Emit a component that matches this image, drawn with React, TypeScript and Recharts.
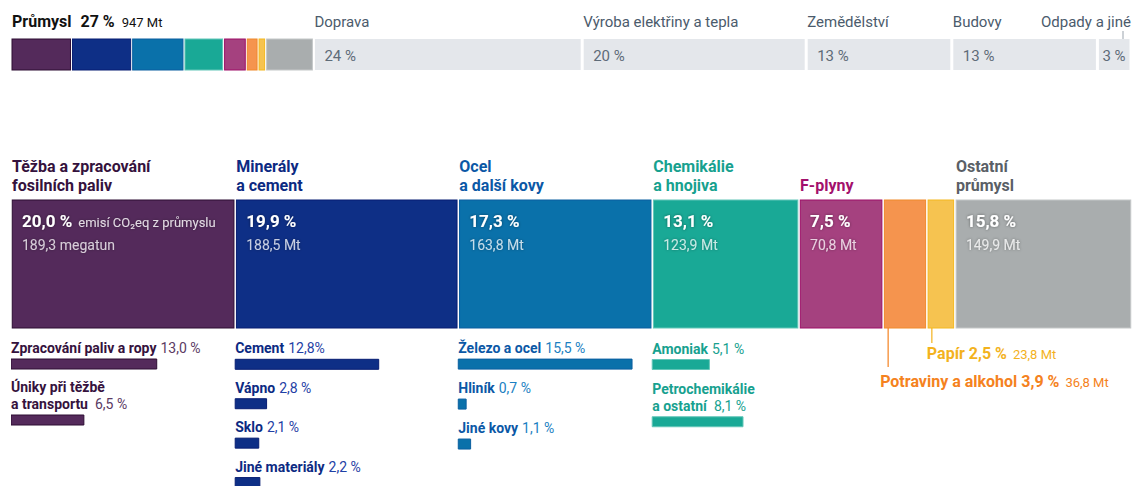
import React from 'react';
import { BarChart, Bar, XAxis, YAxis, LabelList } from 'recharts';

const FONT = 'Roboto, "Noto Sans", Arial, sans-serif';
const W = 1135;

// ---------- data ----------
const industryLabel = 'Průmysl';
const industryShare = 27;
const industryMt = 947;
const sectorNames = ['Doprava', 'Výroba elektřiny a tepla', 'Zemědělství', 'Budovy', 'Odpady a jiné'];
const sectorShares = [24, 20, 13, 13, 3];

const categoryTitles = [
  'Těžba a zpracování\nfosilních paliv',
  'Minerály\na cement',
  'Ocel\na další kovy',
  'Chemikálie\na hnojiva',
  'F-plyny',
  'Potraviny a alkohol',
  'Papír',
  'Ostatní\nprůmysl',
];
const categoryShares = [20.0, 19.9, 17.3, 13.1, 7.5, 3.9, 2.5, 15.8];
const categoryMt = [189.3, 188.5, 163.8, 123.9, 70.8, 36.8, 23.8, 149.9];

const fossilNames = ['Zpracování paliv a ropy', 'Úniky při těžbě\na transportu'];
const fossilShares = [13.0, 6.5];
const mineralNames = ['Cement', 'Vápno', 'Sklo', 'Jiné materiály'];
const mineralShares = [12.8, 2.8, 2.1, 2.2];
const mineralTexts = ['12,8%', '2,8 %', '2,1 %', '2,2 %'];
const metalNames = ['Železo a ocel', 'Hliník', 'Jiné kovy'];
const metalShares = [15.5, 0.7, 1.1];
const chemNames = ['Amoniak', 'Petrochemikálie\na ostatní'];
const chemShares = [5.1, 8.1];

// ---------- styles ----------
const catFill = ['#542a5b', '#0e2f86', '#0a71aa', '#19a996', '#a5417f', '#f5944e', '#f6c350', '#a9adae'];
const catStroke = ['#2d0d33', '#071d72', '#0a5fa0', '#63c6b8', '#9e0f68', '#f08a2a', '#f4b81f', '#c4c7c8'];
const catText = ['#35123d', '#0c2a82', '#0b58a6', '#17a18f', '#a3106c', '#f58220', '#f3b21d', '#5a5f66'];
const subValueColor = ['#5b3a63', '#1f40a5', '#1b7fc2', '#17a18f'];
const sectorFill = '#e4e7eb';
const sectorText = '#4b5b6c';

const fmt1 = (v: number) => v.toFixed(1).replace('.', ',');
const pct = (v: number) => fmt1(v) + ' %';

function insetShape(fill: string, stroke: string | null, gap: number) {
  return (p: any) => {
    const w = Math.max((p.width || 0) - gap, 0);
    if (!w || !p.height) return <g />;
    return (
      <rect
        x={p.x + gap / 2}
        y={p.y}
        width={w}
        height={p.height}
        fill={fill}
        stroke={stroke || 'none'}
        strokeWidth={stroke ? 1 : 0}
      />
    );
  };
}

const gx = (p: any) => (p.x ?? p.viewBox?.x ?? 0);
const gy = (p: any) => (p.y ?? p.viewBox?.y ?? 0);
const gw = (p: any) => (p.width ?? p.viewBox?.width ?? 0);
const gh = (p: any) => (p.height ?? p.viewBox?.height ?? 0);

// ---------- top overview bar ----------
function TopChart() {
  const row: any = { row: 'emise' };
  categoryShares.forEach((s, i) => (row['c' + i] = (industryShare * s) / 100));
  sectorShares.forEach((s, i) => (row['s' + i] = s));
  return (
    <BarChart
      width={W}
      height={80}
      data={[row]}
      layout="vertical"
      margin={{ top: 39, right: 4, bottom: 10, left: 11 }}
      barCategoryGap={0}
    >
      <XAxis type="number" domain={[0, 100]} hide allowDataOverflow />
      <YAxis type="category" dataKey="row" hide />
      {categoryShares.map((_, i) => (
        <Bar
          key={'c' + i}
          dataKey={'c' + i}
          stackId="t"
          isAnimationActive={false}
          shape={insetShape(catFill[i], catStroke[i], 2)}
        >
          {i === 0 ? (
            <LabelList
              content={(p: any) => (
                <text x={gx(p) + 1} y={27} fontFamily={FONT} fontSize={16} fontWeight={700} fill="#111">
                  <tspan>{industryLabel}</tspan>
                  <tspan dx={9}>{industryShare + ' %'}</tspan>
                  <tspan dx={7} fontSize={13} fontWeight={400}>
                    {industryMt + ' Mt'}
                  </tspan>
                </text>
              )}
            />
          ) : null}
        </Bar>
      ))}
      {sectorShares.map((_, i) => (
        <Bar
          key={'s' + i}
          dataKey={'s' + i}
          stackId="t"
          isAnimationActive={false}
          shape={insetShape(sectorFill, null, 3)}
        >
          <LabelList
            content={(p: any) => {
              const x = gx(p);
              const last = i === sectorShares.length - 1;
              return (
                <g>
                  {last ? (
                    <>
                      <text x={x + gw(p)} y={27} textAnchor="end" fontFamily={FONT} fontSize={15} fill={sectorText}>
                        {sectorNames[i]}
                      </text>
                      <line x1={x + gw(p) - 8} x2={x + gw(p) - 8} y1={31} y2={39} stroke="#9aa3ad" strokeWidth={1} />
                    </>
                  ) : (
                    <text x={x + 1} y={27} fontFamily={FONT} fontSize={15} fill={sectorText}>
                      {sectorNames[i]}
                    </text>
                  )}
                  <text x={x + (last ? 5 : 11)} y={61} fontFamily={FONT} fontSize={15} fill="#5e6b78">
                    {sectorShares[i] + ' %'}
                  </text>
                </g>
              );
            }}
          />
        </Bar>
      ))}
    </BarChart>
  );
}

// ---------- main industry blocks ----------
function MainChart() {
  const row: any = { row: 'prumysl' };
  categoryShares.forEach((s, i) => (row['k' + i] = s));
  return (
    <BarChart
      width={W}
      height={260}
      data={[row]}
      layout="vertical"
      margin={{ top: 60, right: 3, bottom: 72, left: 11 }}
      barCategoryGap={0}
    >
      <XAxis type="number" domain={[0, 100]} hide allowDataOverflow />
      <YAxis type="category" dataKey="row" hide />
      {categoryShares.map((_, k) => (
        <Bar
          key={'k' + k}
          dataKey={'k' + k}
          stackId="m"
          isAnimationActive={false}
          shape={insetShape(catFill[k], catStroke[k], 2.5)}
        >
          <LabelList
            content={(p: any) => {
              const x = gx(p);
              const top = gy(p);
              const bottom = top + gh(p);
              if (k === 5 || k === 6) {
                const isPaper = k === 6;
                const lineEnd = isPaper ? bottom + 15 : bottom + 39;
                const base = isPaper ? bottom + 31 : bottom + 59;
                return (
                  <g>
                    <line x1={x + 5} x2={x + 5} y1={bottom} y2={lineEnd} stroke={catText[k]} strokeWidth={1.2} />
                    <text x={isPaper ? x : x - 3} y={base} fontFamily={FONT} fill={catText[k]}>
                      <tspan fontSize={16} fontWeight={700}>
                        {categoryTitles[k] + ' ' + pct(categoryShares[k])}
                      </tspan>
                      <tspan dx={6} fontSize={13}>
                        {fmt1(categoryMt[k]) + ' Mt'}
                      </tspan>
                    </text>
                  </g>
                );
              }
              const lines = categoryTitles[k].split('\n');
              return (
                <g>
                  {k === 0 ? (
                    <defs>
                      <filter id="txtGlow" x="-20%" y="-50%" width="140%" height="200%">
                        <feDropShadow dx={0} dy={0} stdDeviation={1.6} floodColor="#000000" floodOpacity={0.45} />
                      </filter>
                    </defs>
                  ) : null}
                  {lines.map((ln, li) => (
                    <text
                      key={li}
                      x={x + 1}
                      y={top - 9 - (lines.length - 1 - li) * 19}
                      fontFamily={FONT}
                      fontSize={16}
                      fontWeight={700}
                      fill={catText[k]}
                    >
                      {ln}
                    </text>
                  ))}
                  <g filter="url(#txtGlow)">
                    <text x={x + 11} y={top + 27} fontFamily={FONT} fill="#ffffff">
                      <tspan fontSize={17} fontWeight={700}>
                        {pct(categoryShares[k])}
                      </tspan>
                      {k === 0 ? (
                        <tspan dx={6} fontSize={13} fill="rgba(255,255,255,0.82)">
                          emisí CO₂eq z průmyslu
                        </tspan>
                      ) : null}
                    </text>
                    <text x={x + 11} y={top + 50} fontFamily={FONT} fontSize={14} fill="rgba(255,255,255,0.75)">
                      {fmt1(categoryMt[k]) + (k === 0 ? ' megatun' : ' Mt')}
                    </text>
                  </g>
                </g>
              );
            }}
          />
        </Bar>
      ))}
    </BarChart>
  );
}

// ---------- sub-category bars ----------
function SubColumn(props: {
  k: number;
  names: string[];
  shares: number[];
  texts?: string[];
  band: number;
}) {
  const { k, names, shares, texts, band } = props;
  const offset = categoryShares.slice(0, k).reduce((a, b) => a + b, 0);
  const data = names.map((n, i) => ({ name: n, offset, value: shares[i] }));
  const T = 300;
  const m = 364 - band / 2 - T;
  const h = Math.ceil(m + band * names.length);
  return (
    <div style={{ position: 'absolute', left: 0, top: T }}>
      <BarChart
        width={W}
        height={h}
        data={data}
        layout="vertical"
        margin={{ top: m, right: 3, bottom: 0, left: 11 }}
        barCategoryGap={0}
        barSize={10}
      >
        <XAxis type="number" domain={[0, 100]} hide allowDataOverflow />
        <YAxis type="category" dataKey="name" hide />
        <Bar dataKey="offset" stackId="s" fill="none" isAnimationActive={false} />
        <Bar
          dataKey="value"
          stackId="s"
          fill={catFill[k]}
          stroke={catStroke[k]}
          strokeWidth={1}
          isAnimationActive={false}
        >
          <LabelList
            content={(p: any) => {
              const idx = p.index ?? 0;
              const x = gx(p);
              const top = gy(p);
              const lines = names[idx].split('\n');
              const valText = texts ? texts[idx] : pct(shares[idx]);
              return (
                <g>
                  {lines.map((ln, li) => {
                    const isLast = li === lines.length - 1;
                    return (
                      <text
                        key={li}
                        x={x}
                        y={top - 6 - (lines.length - 1 - li) * 17}
                        fontFamily={FONT}
                        fontSize={14}
                      >
                        <tspan fontWeight={700} fill={catText[k]}>
                          {ln}
                        </tspan>
                        {isLast ? (
                          <tspan dx={lines.length > 1 ? 7 : 4} fill={subValueColor[k]}>
                            {valText}
                          </tspan>
                        ) : null}
                      </text>
                    );
                  })}
                </g>
              );
            }}
          />
        </Bar>
      </BarChart>
    </div>
  );
}

export default function App() {
  return (
    <div
      style={{
        position: 'absolute',
        left: 0,
        top: 0,
        width: W,
        height: 486,
        overflow: 'hidden',
        background: '#ffffff',
        fontFamily: FONT,
      }}
    >
      <div style={{ position: 'absolute', left: 0, top: 0 }}>
        <TopChart />
      </div>
      <div style={{ position: 'absolute', left: 0, top: 140 }}>
        <MainChart />
      </div>
      <SubColumn k={0} names={fossilNames} shares={fossilShares} band={56} />
      <SubColumn k={1} names={mineralNames} shares={mineralShares} texts={mineralTexts} band={39.4} />
      <SubColumn k={2} names={metalNames} shares={metalShares} band={39.8} />
      <SubColumn k={3} names={chemNames} shares={chemShares} band={57} />
    </div>
  );
}
